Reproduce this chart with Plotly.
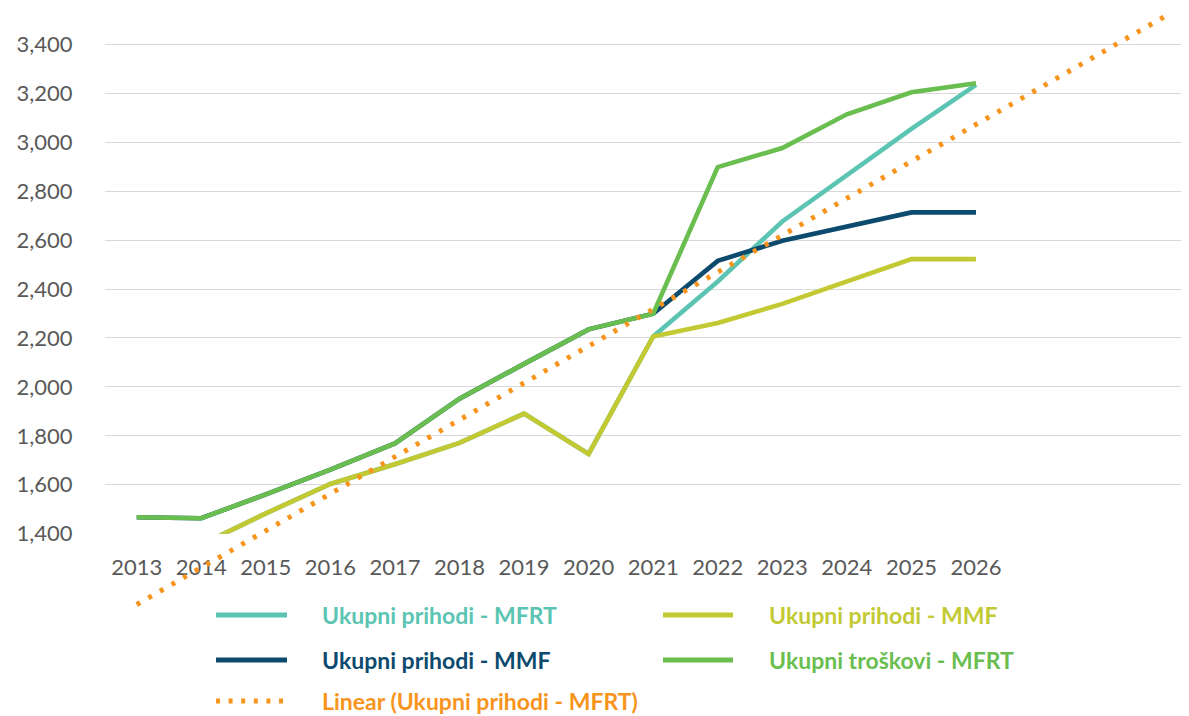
import numpy as np
import plotly.graph_objects as go

# ---------------- data ----------------
years = list(range(2013, 2027))
tick_labels = [str(y) for y in years]
prihodi_mfrt = [1300, 1355, 1483, 1603, 1684, 1771, 1891, 1726, 2206, 2431, 2676, 2866, 3054, 3234]
prihodi_mmf_a = [1300, 1355, 1483, 1603, 1684, 1771, 1891, 1726, 2206, 2261, 2339, 2431, 2522, 2522]
prihodi_mmf_b = [1467, 1463, 1561, 1662, 1769, 1952, 2094, 2235, 2299, 2515, 2597, 2656, 2713, 2713]
troskovi_mfrt = [1467, 1463, 1561, 1662, 1769, 1952, 2094, 2235, 2299, 2898, 2976, 3114, 3204, 3241]
y_ticks = [1400, 1600, 1800, 2000, 2200, 2400, 2600, 2800, 3000, 3200, 3400]
trend_forward_periods = 3

names = ["Ukupni prihodi - MFRT", "Ukupni prihodi - MMF", "Ukupni prihodi - MMF",
         "Ukupni troškovi - MFRT", "Linear (Ukupni prihodi - MFRT)"]
colors = ["#5BC4B2", "#C3C933", "#0C4A6E", "#6ABE50", "#F7941D"]

# linear trendline (least squares, as the spreadsheet's "Linear" trendline)
slope, intercept = np.polyfit(years, prihodi_mfrt, 1)
trend_x = [years[0], years[-1] + trend_forward_periods]
trend_y = [slope * x + intercept for x in trend_x]

# ---------------- geometry ----------------
OFF = 8                      # page body margin
W, H = 1189 - OFF, 716 - OFF
plot_left_px, plot_bottom_px = 105 - OFF, 533.7 - OFF
px_per_year = 64.56
px_per_unit = 0.2447
x_first_px = 136.7 - OFF

x0 = years[0] - (x_first_px - plot_left_px) / px_per_year
x1 = x0 + (W - plot_left_px) / px_per_year
y0 = 1400
y1 = y0 + plot_bottom_px / px_per_unit
x0_full = x0 - plot_left_px / px_per_year
y0_full = y0 - (H - plot_bottom_px) / px_per_unit

FONT = "Lato"
LW = 4.6

fig = go.Figure()
series = [prihodi_mfrt, prihodi_mmf_a, prihodi_mmf_b, troskovi_mfrt]
for vals, nm, col in zip(series, names[:4], colors[:4]):
    fig.add_trace(go.Scatter(x=years, y=vals, mode="lines", name=nm,
                             line=dict(color=col, width=LW), xaxis="x", yaxis="y",
                             showlegend=False))

fig.add_trace(go.Scatter(x=trend_x, y=trend_y, mode="lines", name=names[4],
                         line=dict(color=colors[4], width=5, dash="4px,9.4px"),
                         xaxis="x2", yaxis="y2", showlegend=False))

fig.update_layout(
    width=W, height=H,
    margin=dict(l=0, r=0, t=0, b=0),
    paper_bgcolor="white",
    plot_bgcolor="rgba(0,0,0,0)",
    showlegend=False,
    font=dict(family=FONT, size=22, color="#595959"),
    xaxis=dict(domain=[plot_left_px / W, 1], range=[x0, x1], tickmode="array",
               tickvals=years, ticktext=tick_labels, showgrid=False, zeroline=False,
               showline=False, ticks="outside", ticklen=14, tickcolor="rgba(0,0,0,0)",
               automargin=False, anchor="y"),
    yaxis=dict(domain=[(H - plot_bottom_px) / H, 1], range=[y0, y1], tickmode="array",
               tickvals=y_ticks, tickformat=",d", showgrid=True, gridcolor="#D9D9D9",
               gridwidth=1, zeroline=False, showline=False, ticks="outside", ticklen=27,
               tickcolor="rgba(0,0,0,0)", automargin=False, anchor="x"),
    xaxis2=dict(domain=[0, 1], range=[x0_full, x1], visible=False, anchor="y2"),
    yaxis2=dict(domain=[0, 1], range=[y0_full, y1], visible=False, anchor="x2"),
)

# manual legend (two columns, row-major)
legend_pos = [(216, 287, 320, 615), (663, 733, 767, 615),
              (216, 287, 320, 660), (663, 733, 767, 660),
              (216, 287, 320, 701)]
for i, (sx0, sx1, tx, ty) in enumerate(legend_pos):
    sx0, sx1, tx, ty = sx0 - OFF, sx1 - OFF, tx - OFF, ty - OFF
    dash = "4px,8.6px" if i == 4 else "solid"
    fig.add_shape(type="line", xref="paper", yref="paper",
                  x0=sx0 / W, x1=sx1 / W, y0=1 - ty / H, y1=1 - ty / H,
                  line=dict(color=colors[i], width=5, dash=dash))
    fig.add_annotation(xref="paper", yref="paper", x=tx / W, y=1 - ty / H,
                       xanchor="left", yanchor="middle", showarrow=False,
                       text="<b>" + names[i] + "</b>",
                       font=dict(family=FONT, size=23, color=colors[i]))

fig.write_html("out.html")
